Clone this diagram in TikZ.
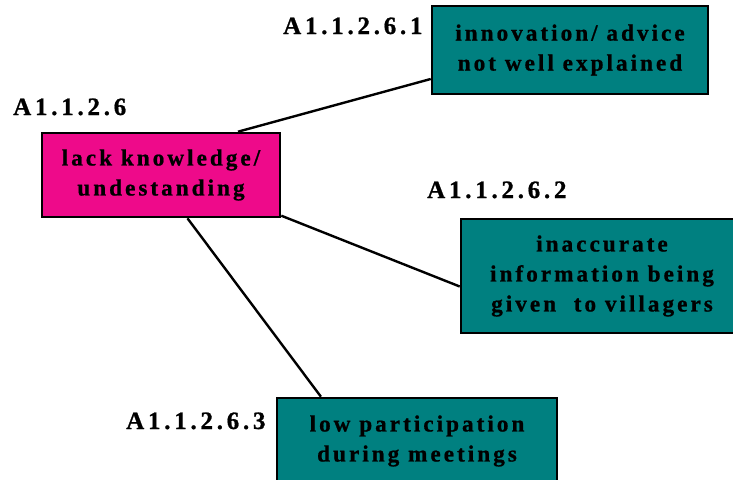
\documentclass[tikz,border=0pt]{standalone}
\usepackage{fontspec}
\setmainfont{Liberation Serif}
\newfontfamily\boxfont{Liberation Serif Bold}[LetterSpace=13, FakeBold=0.8]
\newfontfamily\codefont{Liberation Serif Bold}[LetterSpace=15, FakeBold=0.8]
\usetikzlibrary{calc}
\definecolor{causepink}{RGB}{238,10,138}
\definecolor{subteal}{RGB}{0,128,128}
\tikzset{
  box/.style={draw=black, line width=2.6pt, align=center, inner sep=0pt,
    font=\boxfont\fontsize{23.2}{30}\selectfont},
  mainbox/.style={box, fill=causepink},
  subbox/.style={box, fill=subteal},
  code/.style={anchor=base west, inner sep=0pt,
    font=\codefont\fontsize{25}{28}\selectfont},
  link/.style={line width=2.4pt}
}
\begin{document}
\begin{tikzpicture}[x=1pt, y=-1pt]
  \useasboundingbox (0,0) rectangle (733,479);
  % main cause
  \node[mainbox, minimum width=238pt, minimum height=84pt] (main) at (161,175)
    {lack knowledge/\\undestanding};
  % sub-causes
  \node[subbox, minimum width=276pt, minimum height=88pt] (s1) at (570,50)
    {innovation/ advice\\not well explained};
  \node[subbox, minimum width=282pt, minimum height=114pt] (s2) at (602,276)
    {inaccurate\\information being\\given \ to villagers};
  \node[subbox, minimum width=280pt, minimum height=86pt] (s3) at (417,441)
    {low participation\\during meetings};
  % codes
  \node[code] (c0) at (13,115) {A1.1.2.6};
  \node[code] (c1) at (283,34) {A1.1.2.6.1};
  \node[code] (c2) at (427,198) {A1.1.2.6.2};
  \node[code] (c3) at (126,429) {A1.1.2.6.3};
  % connectors
  \draw[link] ($(main.north west)!0.82!(main.north east)$) -- ($(s1.north west)!0.82!(s1.south west)$);
  \draw[link] ($(main.north east)!0.97!(main.south east)$) -- ($(s2.north west)!0.59!(s2.south west)$);
  \draw[link] ($(main.south west)!0.61!(main.south east)$) -- ($(s3.north west)!0.16!(s3.north east)$);
\end{tikzpicture}
\end{document}
